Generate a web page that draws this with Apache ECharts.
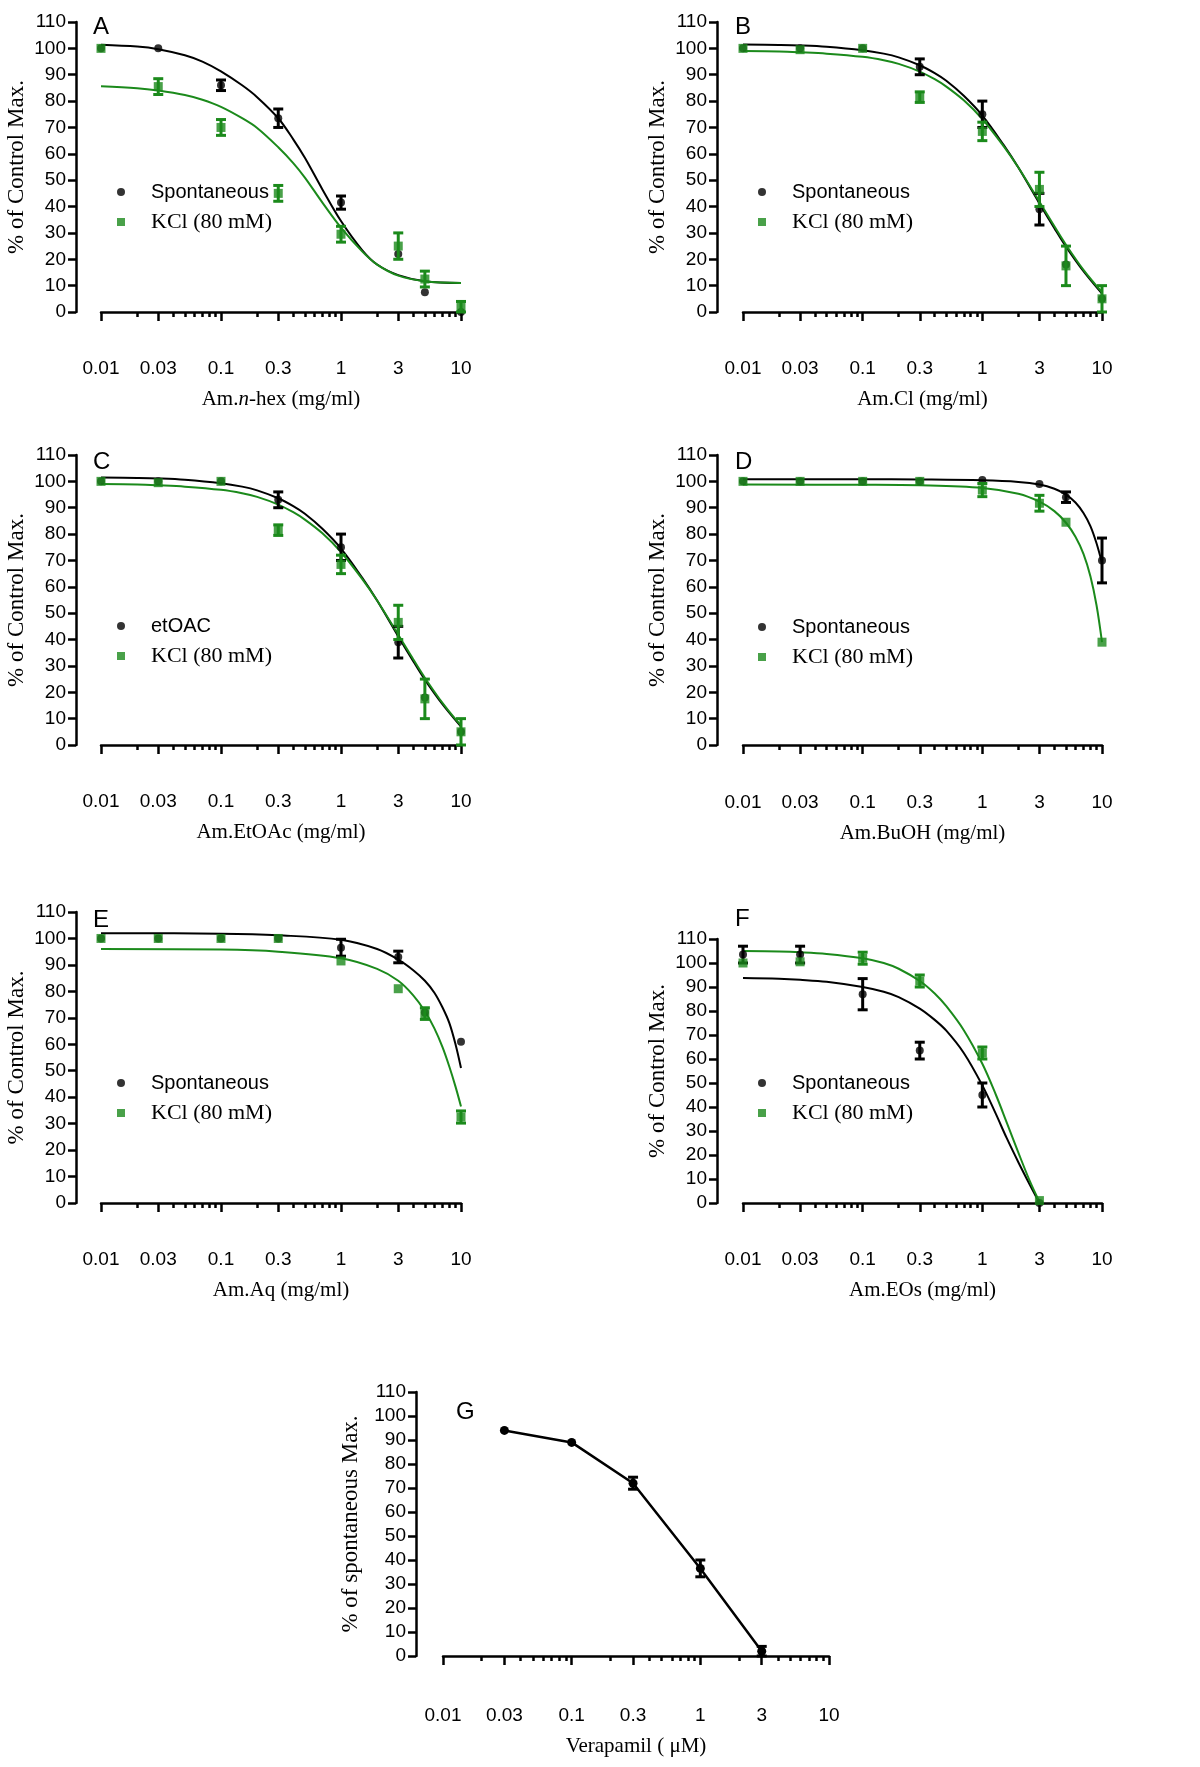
<!DOCTYPE html>
<html>
<head>
<meta charset="utf-8">
<script src="https://cdn.jsdelivr.net/npm/echarts@6/dist/echarts.min.js"></script>
<style>
html,body{margin:0;padding:0;background:#fff;}
#chart{width:1200px;height:1767px;}
</style>
</head>
<body>
<div id="chart"></div>
<script>
// ================= DATA =================
const xTickValues = [0.01, 0.03, 0.1, 0.3, 1, 3, 10];
const xMinorTickValues = [0.02,0.04,0.05,0.06,0.07,0.08,0.09,0.2,0.4,0.5,0.6,0.7,0.8,0.9,2,4,5,6,7,8,9];

// Panel A – Am.n-hex
const concA = [0.01, 0.03, 0.1, 0.3, 1, 3, 5, 10];
const spontA = [100, 100, 86, 73.5, 41.5, 22, 7.5, 0];
const spontErrA = [0, 0, 2, 3.5, 2.5, 0, 0, 0];
const kclA = [100, 85.5, 70, 45, 29.5, 25, 12.5, 2];
const kclErrA = [0, 3, 3, 3, 3, 5, 3, 2];
const fitXA = [0.01, 0.02, 0.03, 0.05, 0.07, 0.1, 0.15, 0.2, 0.3, 0.4, 0.5, 0.7, 1, 1.5, 2, 3, 5, 10];
const spontFitA = [101.4, 100.7, 99.7, 97.4, 95, 91.3, 86, 81.5, 73.5, 65.5, 58.5, 46.5, 34.5, 23.5, 18, 14, 11.7, 11];
const kclFitA = [85.6, 84.9, 84, 82.3, 80.5, 77.8, 73.5, 69.8, 62.5, 56.5, 51, 41.5, 32, 23, 18, 13.8, 11.7, 11];

// Panel B – Am.Cl
const concB = [0.01, 0.03, 0.1, 0.3, 1, 3, 5, 10];
const spontB = [100, 100, 100, 93, 75, 39, 18, 5];
const spontErrB = [0, 0, 0, 3, 5, 6, 0, 0];
const kclB = [100, 99.5, 100, 81.5, 68.5, 46.5, 17.5, 5];
const kclErrB = [0, 0, 0, 2, 3.5, 6.5, 7.5, 5];
const fitXB = [0.01, 0.02, 0.03, 0.05, 0.1, 0.15, 0.2, 0.3, 0.4, 0.5, 0.7, 1, 1.5, 2, 3, 4, 5, 7, 10];
const spontFitB = [101.5, 101.3, 101.1, 100.6, 99.3, 98, 96.6, 93.6, 90.6, 87.7, 82, 74.5, 63.5, 54.8, 41.2, 31.8, 24.8, 15.5, 7];
const kclFitB = [99, 98.8, 98.5, 98, 96.8, 95.5, 94.1, 91.2, 88.3, 85.5, 80.3, 73.2, 63, 54.8, 41.8, 32.5, 25.5, 16, 7.5];

// Panel C – Am.EtOAc
const concC = [0.01, 0.03, 0.1, 0.3, 1, 3, 5, 10];
const etoacC = [100, 100, 100, 93, 75, 39, 18, 5];
const etoacErrC = [0, 0, 0, 3, 5, 6, 0, 0];
const kclC = [100, 99.5, 100, 81.5, 68.5, 46.5, 17.5, 5];
const kclErrC = [0, 0, 0, 2, 3.5, 6.5, 7.5, 5];
const fitXC = [0.01, 0.02, 0.03, 0.05, 0.1, 0.15, 0.2, 0.3, 0.4, 0.5, 0.7, 1, 1.5, 2, 3, 4, 5, 7, 10];
const etoacFitC = [101.5, 101.3, 101.1, 100.6, 99.3, 98, 96.6, 93.6, 90.6, 87.7, 82, 74.5, 63.5, 54.8, 41.2, 31.8, 24.8, 15.5, 7];
const kclFitC = [99, 98.8, 98.5, 98, 96.8, 95.5, 94.1, 91.2, 88.3, 85.5, 80.3, 73.2, 63, 54.8, 41.8, 32.5, 25.5, 16, 7.5];

// Panel D – Am.BuOH
const concD = [0.01, 0.03, 0.1, 0.3, 1, 3, 5, 10];
const spontD = [100, 100, 100, 100, 100.5, 99, 94, 70];
const spontErrD = [0, 0, 0, 0, 0, 0, 2, 8.5];
const kclD = [100, 100, 100, 100, 96.7, 91.7, 84.5, 39];
const kclErrD = [0, 0, 0, 0, 2.5, 3, 0, 0];
const fitXD = [0.01, 0.1, 0.3, 1, 2, 3, 4, 5, 6, 7, 8, 9, 10];
const spontFitD = [100.8, 100.8, 100.7, 100.4, 99.8, 98.8, 97.2, 95, 92, 88, 83, 76.5, 69];
const kclFitD = [98.8, 98.7, 98.5, 97.5, 95.3, 92.3, 88.7, 84.3, 79, 72.5, 64, 53, 39];

// Panel E – Am.Aq
const concE = [0.01, 0.03, 0.1, 0.3, 1, 3, 5, 10];
const spontE = [100, 100, 100, 100, 96.5, 93, 72, 61];
const spontErrE = [0, 0, 0, 0, 3.2, 2.2, 0, 0];
const kclE = [100, 100, 100, 100, 91.5, 81, 71.6, 32.5];
const kclErrE = [0, 0, 0, 0, 0, 0, 2.2, 2.3];
const fitXE = [0.01, 0.1, 0.3, 1, 2, 3, 4, 5, 6, 7, 8, 9, 10];
const spontFitE = [102, 101.8, 101.2, 99.5, 96, 92, 88, 84, 79.5, 74, 68, 60, 51];
const kclFitE = [96, 95.8, 95, 92.5, 88.5, 84, 78.5, 72.5, 66, 59, 51.5, 44, 36.5];

// Panel F – Am.EOs
const concF = [0.01, 0.03, 0.1, 0.3, 1, 3];
const spontF = [103.5, 103.5, 87, 63.5, 45, 0];
const spontErrF = [3.5, 3.5, 6.5, 3.5, 5, 0];
const kclF = [100, 100.5, 102, 92.5, 62.5, 1];
const kclErrF = [0, 0, 2.5, 2.5, 2.5, 0];
const fitXF = [0.01, 0.02, 0.03, 0.05, 0.1, 0.15, 0.2, 0.3, 0.4, 0.5, 0.7, 1, 1.3, 1.6, 2, 2.5, 3];
const spontFitF = [93.7, 93.4, 93, 92.2, 90, 88, 85.8, 81, 76.3, 71.8, 62.5, 49, 37, 27, 17, 7.5, 0];
const kclFitF = [105, 104.8, 104.5, 103.8, 102, 100, 97.6, 92.5, 87.3, 82, 72, 58, 45, 33.5, 21, 9, 0.5];

// Panel G – Verapamil
const concG = [0.03, 0.1, 0.3, 1, 3];
const veraG = [94, 89, 72, 36.5, 2];
const veraErrG = [0, 0, 2.5, 3.5, 2];

// ================= STYLE / LAYOUT =================
const BLACK = '#000000';
const GREEN = '#1b8a1b';
const SANS = 'Liberation Sans';
const SERIF = 'Liberation Serif';
const AXW = 2.5;

const panels = [
  {letter:'A', left:101, top:22, width:360, height:290, yOff:25, xOff:29, yGap:48,
   xName:'Am.{i|n}-hex (mg/ml)', yName:'% of Control Max.', letterPos:[93,15], legendPos:[117,181],
   blackName:'Spontaneous', conc:concA, black:spontA, blackErr:spontErrA, green:kclA, greenErr:kclErrA,
   fitX:fitXA, blackFit:spontFitA, greenFit:kclFitA},
  {letter:'B', left:743, top:22, width:359, height:290, yOff:26, xOff:29, yGap:48,
   xName:'Am.Cl (mg/ml)', yName:'% of Control Max.', letterPos:[735,15], legendPos:[758,181],
   blackName:'Spontaneous', conc:concB, black:spontB, blackErr:spontErrB, green:kclB, greenErr:kclErrB,
   fitX:fitXB, blackFit:spontFitB, greenFit:kclFitB},
  {letter:'C', left:101, top:455, width:360, height:290, yOff:25, xOff:29, yGap:48,
   xName:'Am.EtOAc (mg/ml)', yName:'% of Control Max.', letterPos:[93,450], legendPos:[117,615],
   blackName:'etOAC', conc:concC, black:etoacC, blackErr:etoacErrC, green:kclC, greenErr:kclErrC,
   fitX:fitXC, blackFit:etoacFitC, greenFit:kclFitC},
  {letter:'D', left:743, top:455, width:359, height:290, yOff:26, xOff:30, yGap:48,
   xName:'Am.BuOH (mg/ml)', yName:'% of Control Max.', letterPos:[735,450], legendPos:[758,616],
   blackName:'Spontaneous', conc:concD, black:spontD, blackErr:spontErrD, green:kclD, greenErr:kclErrD,
   fitX:fitXD, blackFit:spontFitD, greenFit:kclFitD},
  {letter:'E', left:101, top:912, width:360, height:291, yOff:25, xOff:29, yGap:48,
   xName:'Am.Aq (mg/ml)', yName:'% of Control Max.', letterPos:[93,908], legendPos:[117,1072],
   blackName:'Spontaneous', conc:concE, black:spontE, blackErr:spontErrE, green:kclE, greenErr:kclErrE,
   fitX:fitXE, blackFit:spontFitE, greenFit:kclFitE},
  {letter:'F', left:743, top:939, width:359, height:264, yOff:26, xOff:29, yGap:48,
   xName:'Am.EOs (mg/ml)', yName:'% of Control Max.', letterPos:[735,907], legendPos:[758,1072],
   blackName:'Spontaneous', conc:concF, black:spontF, blackErr:spontErrF, green:kclF, greenErr:kclErrF,
   fitX:fitXF, blackFit:spontFitF, greenFit:kclFitF},
  {letter:'G', left:443, top:1392, width:386, height:264, yOff:27, xOff:32, yGap:54,
   xName:'Verapamil ( \u03BCM)', yName:'% of spontaneous Max.', letterPos:[456,1400], legendPos:null,
   conc:concG, black:veraG, blackErr:veraErrG}
];

function errRender(color) {
  return function (params, api) {
    const x = api.value(0);
    const p1 = api.coord([x, api.value(1)]);
    const p2 = api.coord([x, api.value(2)]);
    const hw = 5;
    const style = {stroke: color, lineWidth: 3, fill: null};
    return {
      type: 'group',
      children: [
        {type: 'line', shape: {x1: p1[0], y1: p1[1], x2: p2[0], y2: p2[1]}, style: style},
        {type: 'line', shape: {x1: p1[0] - hw, y1: p1[1], x2: p1[0] + hw, y2: p1[1]}, style: style},
        {type: 'line', shape: {x1: p2[0] - hw, y1: p2[1], x2: p2[0] + hw, y2: p2[1]}, style: style}
      ]
    };
  };
}

function pairs(xs, ys) { return xs.map((x, i) => [x, ys[i]]); }
function errData(xs, ys, es) {
  const out = [];
  xs.forEach((x, i) => { if (es[i] > 0) out.push([x, ys[i] - es[i], ys[i] + es[i]]); });
  return out;
}

const grids = [], xAxes = [], yAxes = [], series = [], titles = [], legends = [];

panels.forEach((p) => {
  const gi = grids.length;
  const rect = {left: p.left, top: p.top, width: p.width, height: p.height};
  grids.push(Object.assign({}, rect));
  grids.push(Object.assign({}, rect));
  const xi = xAxes.length, yi = yAxes.length;
  xAxes.push({
    gridIndex: gi, type: 'log', logBase: 10, min: 0.01, max: 10, offset: p.xOff,
    axisLine: {show: true, lineStyle: {color: BLACK, width: AXW}},
    axisTick: {show: true, customValues: xTickValues, length: 9, lineStyle: {color: BLACK, width: AXW}},
    axisLabel: {show: true, customValues: xTickValues, margin: 18, fontSize: 19, fontFamily: SANS, color: BLACK,
                formatter: function (v) { return String(v); }},
    splitLine: {show: false}, minorTick: {show: false},
    name: p.xName, nameLocation: 'middle', nameGap: 48,
    nameTextStyle: {fontSize: 21, fontFamily: SERIF, color: BLACK,
      rich: {i: {fontSize: 21, fontFamily: SERIF, fontStyle: 'italic', color: BLACK}}}
  });
  xAxes.push({
    gridIndex: gi + 1, type: 'log', logBase: 10, min: 0.01, max: 10, offset: p.xOff,
    axisLine: {show: false},
    axisTick: {show: true, customValues: xMinorTickValues, length: 5, lineStyle: {color: BLACK, width: AXW}},
    axisLabel: {show: false}, splitLine: {show: false}
  });
  yAxes.push({
    gridIndex: gi, type: 'value', min: 0, max: 110, interval: 10, offset: p.yOff,
    axisLine: {show: true, lineStyle: {color: BLACK, width: AXW}},
    axisTick: {show: true, length: 8, lineStyle: {color: BLACK, width: AXW}},
    axisLabel: {margin: 10, fontSize: 19, fontFamily: SANS, color: BLACK},
    splitLine: {show: false},
    name: p.yName, nameLocation: 'middle', nameGap: p.yGap,
    nameTextStyle: {fontSize: 23, fontFamily: SERIF, color: BLACK}
  });
  yAxes.push({gridIndex: gi + 1, type: 'value', min: 0, max: 110, show: false});

  titles.push({text: p.letter, left: p.letterPos[0], top: p.letterPos[1], padding: 0,
    textStyle: {fontSize: 24, fontWeight: 'normal', fontFamily: SANS, color: BLACK}});

  if (p.letter === 'G') {
    series.push({type: 'line', name: 'Verapamil', xAxisIndex: xi, yAxisIndex: yi,
      data: pairs(p.conc, p.black), symbol: 'circle', symbolSize: 9, showSymbol: true,
      lineStyle: {color: BLACK, width: 2.5}, itemStyle: {color: BLACK}, z: 3});
    series.push({type: 'custom', name: 'Verapamil SEM', xAxisIndex: xi, yAxisIndex: yi,
      renderItem: errRender(BLACK), encode: {x: 0, y: [1, 2]},
      data: errData(p.conc, p.black, p.blackErr), z: 4});
    return;
  }
  // fitted curves
  series.push({type: 'line', name: p.blackName + ' fit', xAxisIndex: xi, yAxisIndex: yi,
    data: pairs(p.fitX, p.blackFit), smooth: 0.35, showSymbol: false, symbol: 'none',
    lineStyle: {color: BLACK, width: 2}, z: 2});
  series.push({type: 'line', name: 'KCl (80 mM) fit', xAxisIndex: xi, yAxisIndex: yi,
    data: pairs(p.fitX, p.greenFit), smooth: 0.35, showSymbol: false, symbol: 'none',
    lineStyle: {color: GREEN, width: 2}, z: 2});
  // black points + SEM
  series.push({type: 'custom', name: p.blackName + ' SEM', xAxisIndex: xi, yAxisIndex: yi,
    renderItem: errRender(BLACK), encode: {x: 0, y: [1, 2]},
    data: errData(p.conc, p.black, p.blackErr), z: 3});
  series.push({type: 'scatter', name: p.blackName, xAxisIndex: xi, yAxisIndex: yi,
    data: pairs(p.conc, p.black), symbol: 'circle', symbolSize: 8,
    itemStyle: {color: BLACK}, z: 3});
  // green points + SEM
  series.push({type: 'custom', name: 'KCl (80 mM) SEM', xAxisIndex: xi, yAxisIndex: yi,
    renderItem: errRender(GREEN), encode: {x: 0, y: [1, 2]},
    data: errData(p.conc, p.green, p.greenErr), z: 4});
  series.push({type: 'scatter', name: 'KCl (80 mM)', xAxisIndex: xi, yAxisIndex: yi,
    data: pairs(p.conc, p.green), symbol: 'rect', symbolSize: 9,
    itemStyle: {color: GREEN}, z: 4});

  legends.push({
    orient: 'vertical', align: 'left', left: p.legendPos[0], top: p.legendPos[1], padding: 0,
    itemWidth: 50, itemHeight: 8, itemGap: 8, selectedMode: false, symbolKeepAspect: true,
    data: [
      {name: p.blackName, icon: 'circle',
       textStyle: {fontFamily: SANS, fontSize: 20, lineHeight: 22, color: BLACK}},
      {name: 'KCl (80 mM)', icon: 'path://M0,0H10V10H0Z',
       textStyle: {fontFamily: SERIF, fontSize: 22, lineHeight: 22, color: BLACK}}
    ]
  });
});

const chart = echarts.init(document.getElementById('chart'), null, {renderer: 'canvas'});
chart.setOption({
  backgroundColor: '#ffffff',
  animation: false,
  title: titles,
  legend: legends,
  grid: grids,
  xAxis: xAxes,
  yAxis: yAxes,
  series: series
});
</script>
</body>
</html>
